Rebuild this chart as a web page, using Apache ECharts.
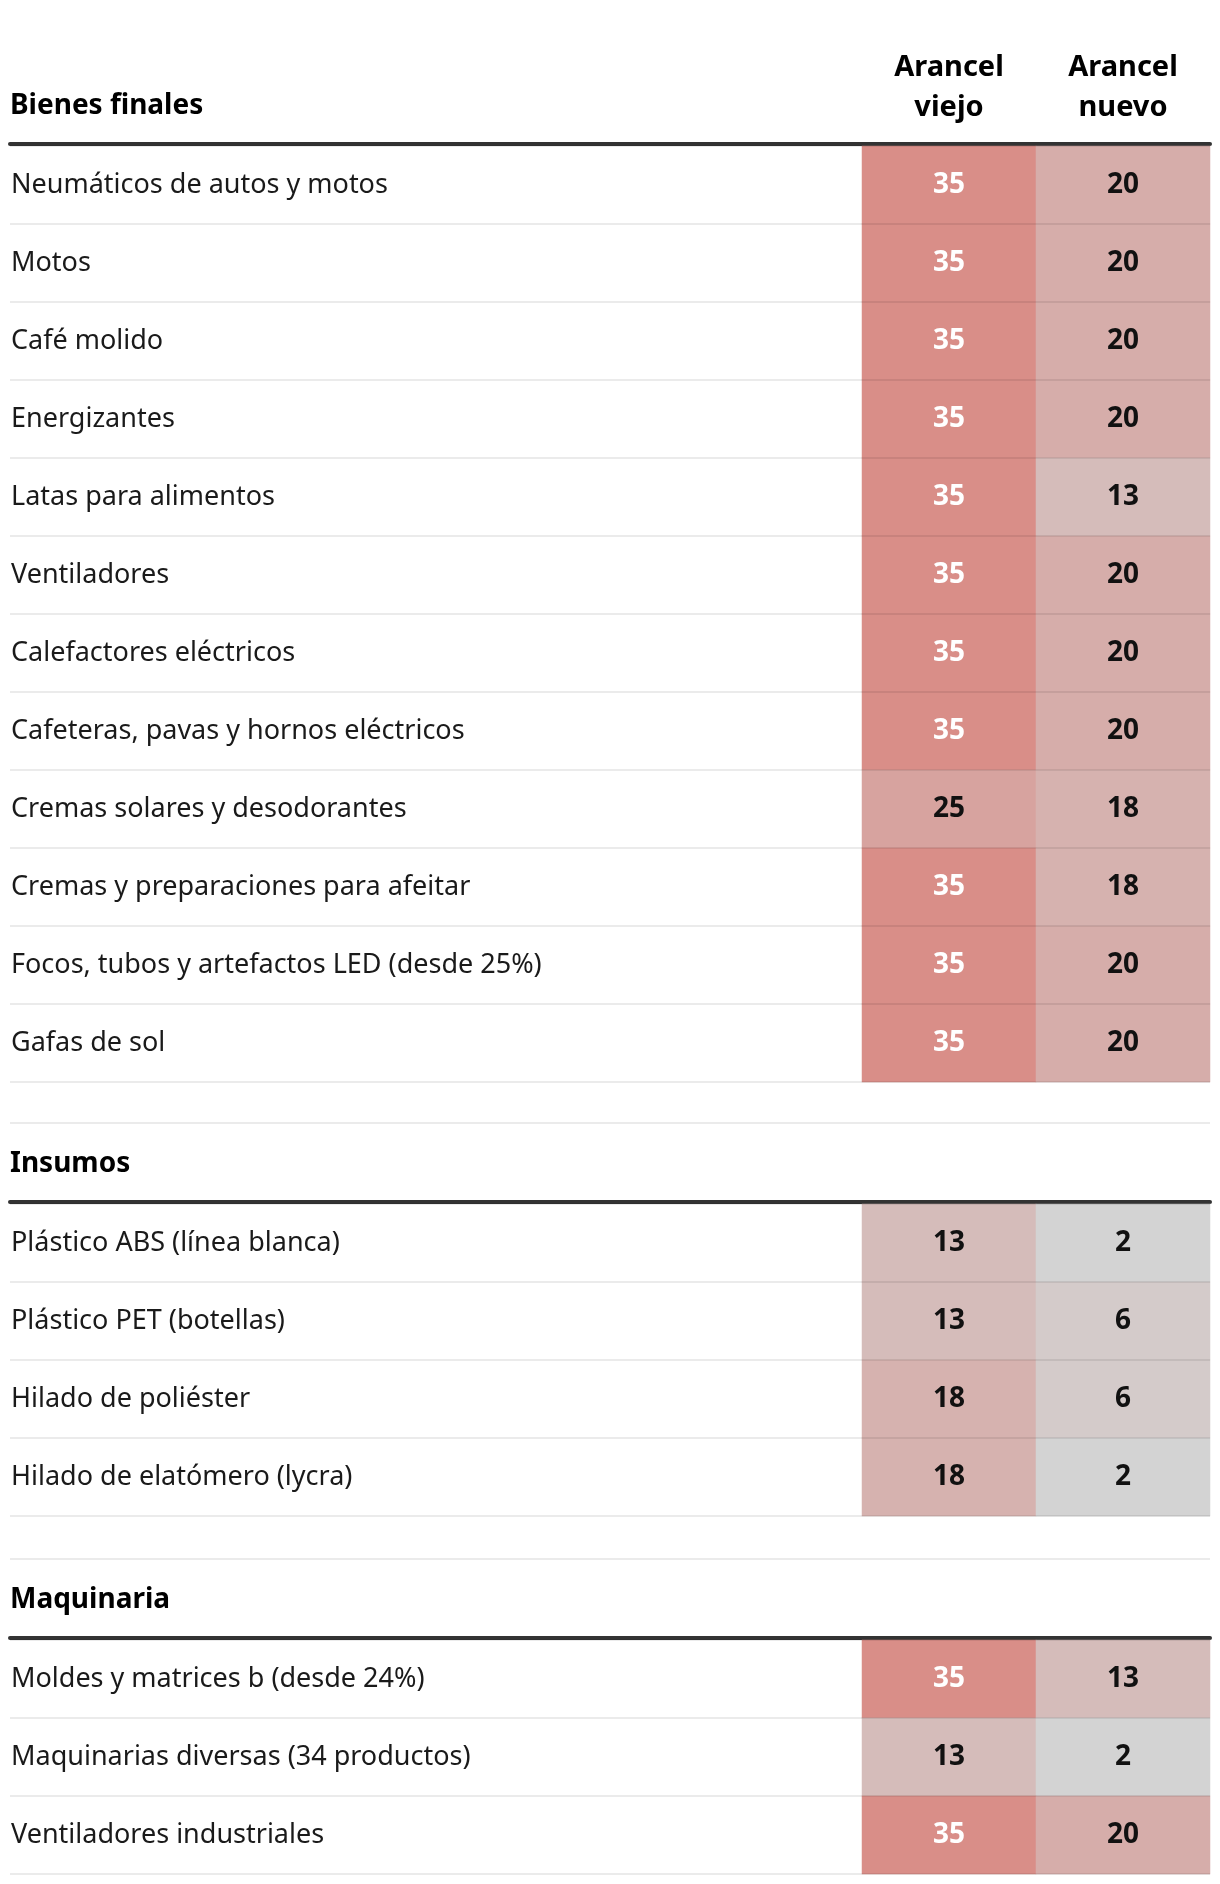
<!DOCTYPE html>
<html>
<head>
<meta charset="utf-8">
<script src="https://cdn.jsdelivr.net/npm/echarts@6/dist/echarts.min.js"></script>
<style>
  html, body { margin: 0; background: #fff; }
  #chart { width: 1220px; height: 1884px; }
</style>
</head>
<body>
<div id="chart"></div>
<script>
const columns = ["Arancel\nviejo", "Arancel\nnuevo"];

const bienesTitle = "Bienes finales";
const bienesLabels = [
  "Neumáticos de autos y motos", "Motos", "Café molido", "Energizantes",
  "Latas para alimentos", "Ventiladores", "Calefactores eléctricos",
  "Cafeteras, pavas y hornos eléctricos", "Cremas solares y desodorantes",
  "Cremas y preparaciones para afeitar", "Focos, tubos y artefactos LED (desde 25%)",
  "Gafas de sol"
];
const bienesViejo = [35, 35, 35, 35, 35, 35, 35, 35, 25, 35, 35, 35];
const bienesNuevo = [20, 20, 20, 20, 13, 20, 20, 20, 18, 18, 20, 20];

const insumosTitle = "Insumos";
const insumosLabels = [
  "Plástico ABS (línea blanca)", "Plástico PET (botellas)",
  "Hilado de poliéster", "Hilado de elatómero (lycra)"
];
const insumosViejo = [13, 13, 18, 18];
const insumosNuevo = [2, 6, 6, 2];

const maqTitle = "Maquinaria";
const maqLabels = [
  "Moldes y matrices b (desde 24%)", "Maquinarias diversas (34 productos)",
  "Ventiladores industriales"
];
const maqViejo = [35, 13, 35];
const maqNuevo = [13, 2, 20];

const FONT = "Noto Sans";
const ROW_H = 78;

const sections = [
  { title: bienesTitle, labels: bienesLabels, viejo: bienesViejo, nuevo: bienesNuevo, top: 146 },
  { title: insumosTitle, labels: insumosLabels, viejo: insumosViejo, nuevo: insumosNuevo, top: 1204 },
  { title: maqTitle, labels: maqLabels, viejo: maqViejo, nuevo: maqNuevo, top: 1640 }
];

// celdas [columna, fila, valor]; blanco para los aranceles altos
function cells(viejo, nuevo) {
  const out = [];
  viejo.forEach((v, r) => {
    out.push([0, r, v]);
    out.push([1, r, nuevo[r]]);
  });
  return out.map(d => ({ value: d, label: { color: d[2] >= 30 ? "#fff" : "#111" } }));
}

const grid = [], xAxis = [], yAxis = [], series = [], title = [], graphic = [];

sections.forEach((s, i) => {
  const h = s.labels.length * ROW_H;
  const g0 = 2 * i, g1 = 2 * i + 1;

  title.push({
    text: s.title, left: 10, top: s.top - 55, padding: 0,
    textStyle: { fontFamily: FONT, fontSize: 28, fontWeight: "bold", color: "#000", lineHeight: 30 }
  });

  if (i > 0) {
    graphic.push({
      type: "line",
      shape: { x1: 10, y1: s.top - 81, x2: 1210, y2: s.top - 81 },
      style: { stroke: "#ebebeb", lineWidth: 2 }
    });
  }

  // grilla de ancho completo: regla superior y separadores de filas
  grid.push({ left: 10, right: 10, top: s.top, height: h });
  xAxis.push({
    gridIndex: g0, type: "value", position: "top", min: 0, max: 1, offset: 2,
    axisLine: { show: true, lineStyle: { color: "#333", width: 4 } },
    axisTick: { show: false }, axisLabel: { show: false }, splitLine: { show: false }
  });
  yAxis.push({
    gridIndex: g0, type: "category", inverse: true, data: s.labels, z: 10,
    axisLine: { show: false }, axisTick: { show: false }, axisLabel: { show: false },
    splitLine: { show: true, interval: 0, lineStyle: { color: "rgba(0,0,0,0.08)", width: 2 } }
  });

  // grilla de las celdas
  grid.push({ left: 862, right: 10, top: s.top, height: h });
  xAxis.push({
    gridIndex: g1, type: "category", position: "top", data: columns,
    axisLine: { show: false }, axisTick: { show: false }, splitLine: { show: false },
    axisLabel: {
      show: i === 0, interval: 0, margin: 18,
      fontFamily: FONT, fontSize: 29, fontWeight: "bold", color: "#000", lineHeight: 40
    }
  });
  yAxis.push({
    gridIndex: g1, type: "category", inverse: true, data: s.labels,
    axisLine: { show: false }, axisTick: { show: false }, splitLine: { show: false },
    axisLabel: {
      interval: 0, align: "left", margin: 851,
      fontFamily: FONT, fontSize: 27, color: "#1a1a1a"
    }
  });

  series.push({
    type: "heatmap", xAxisIndex: g1, yAxisIndex: g1,
    data: cells(s.viejo, s.nuevo),
    label: {
      show: true, fontFamily: FONT, fontSize: 28, fontWeight: "bold",
      formatter: p => p.value[2]
    },
    emphasis: { disabled: true }
  });
});

const chart = echarts.init(document.getElementById("chart"));
chart.setOption({
  animation: false,
  backgroundColor: "#fff",
  title,
  grid,
  xAxis,
  yAxis,
  graphic,
  visualMap: {
    show: false, min: 2, max: 35, dimension: 2,
    seriesIndex: [0, 1, 2],
    inRange: { color: ["#d3d3d3", "#d98e88"] }
  },
  series
});
</script>
</body>
</html>
